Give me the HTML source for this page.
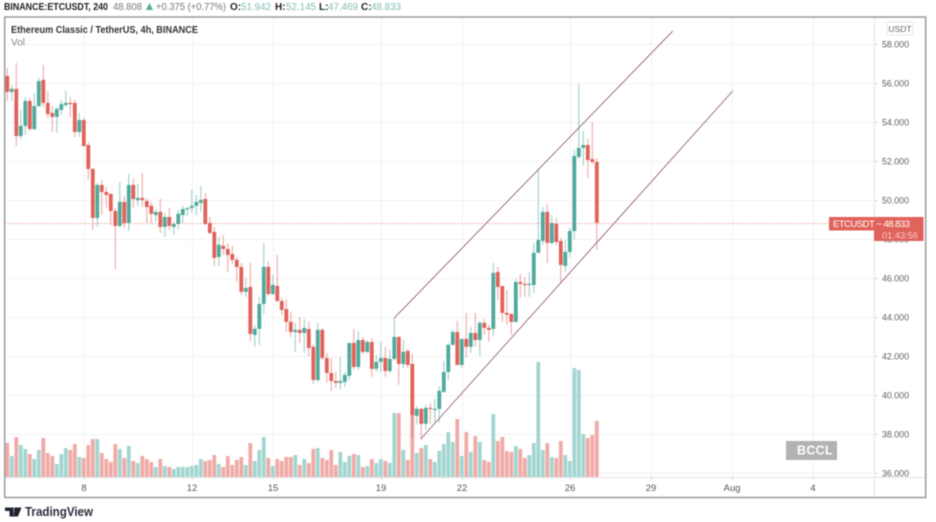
<!DOCTYPE html>
<html lang="en">
<head>
<meta charset="utf-8">
<title>ETCUSDT chart</title>
<style>
html,body{margin:0;padding:0;background:#fff;width:936px;height:522px;overflow:hidden}
svg{display:block;filter:blur(0.4px)}
text{font-family:"Liberation Sans",sans-serif}
</style>
</head>
<body>
<svg id="chart" xmlns="http://www.w3.org/2000/svg" width="936" height="522" viewBox="0 0 936 522">
  <rect x="0" y="0" width="936" height="522" fill="#fff"/>
  <g id="grid"></g>
  <g id="volumes"></g>
  <g id="candles"></g>
  <g id="channels"></g>
  <g id="axes"></g>
  <rect x="4.7" y="17" width="921" height="480.5" fill="none" stroke="#a0a0a0" stroke-width="1.6"/>

  <g font-size="10">
    <text x="4" y="10" font-weight="700" fill="#222" textLength="104" lengthAdjust="spacingAndGlyphs">BINANCE:ETCUSDT, 240</text>
    <text x="113" y="10" fill="#777" textLength="29" lengthAdjust="spacingAndGlyphs">48.808</text>
    <polygon points="146,10 153,10 149.5,3" fill="#58a89c"/>
    <text x="156" y="10" fill="#777" textLength="70" lengthAdjust="spacingAndGlyphs">+0.375 (+0.77%)</text>
    <text x="230" y="10" font-weight="700" fill="#222">O:</text>
    <text x="241" y="10" fill="#7fbdb4" textLength="30" lengthAdjust="spacingAndGlyphs">51.942</text>
    <text x="275" y="10" font-weight="700" fill="#222">H:</text>
    <text x="286" y="10" fill="#7fbdb4" textLength="30" lengthAdjust="spacingAndGlyphs">52.145</text>
    <text x="319" y="10" font-weight="700" fill="#222">L:</text>
    <text x="328" y="10" fill="#7fbdb4" textLength="30" lengthAdjust="spacingAndGlyphs">47.469</text>
    <text x="361" y="10" font-weight="700" fill="#222">C:</text>
    <text x="371" y="10" fill="#7fbdb4" textLength="30" lengthAdjust="spacingAndGlyphs">48.833</text>
  </g>

  <text x="11" y="33" font-size="10" font-weight="700" fill="#333" textLength="187" lengthAdjust="spacingAndGlyphs">Ethereum Classic / TetherUS, 4h, BINANCE</text>
  <text x="11" y="45.500" font-size="10" fill="#888">Vol</text>

  <rect x="887" y="22" width="26" height="13" rx="2.500" fill="#fff" stroke="#e6e6e6"/>
  <text x="900" y="32" font-size="8.500" fill="#666" text-anchor="middle">USDT</text>

  <rect x="786" y="441" width="51" height="19" fill="#b2b2b2"/>
  <text x="815" y="454.500" font-size="12.500" font-weight="700" fill="#fff" text-anchor="middle" letter-spacing="0.300">BCCL</text>

  <g id="price-tag">
    <rect x="829" y="217" width="94.500" height="13.500" fill="#e0625a"/>
    <rect x="874" y="230" width="49.500" height="11" fill="#e0625a"/>
    <text x="833" y="227" font-size="9.500" fill="#fff" textLength="77" lengthAdjust="spacing">ETCUSDT − 48.833</text>
    <text x="882" y="238.500" font-size="9" fill="#f6c9c5" textLength="36" lengthAdjust="spacingAndGlyphs">01:43:56</text>
  </g>

  <g>
    <path d="M5 507.500h8.500v9h-4v-5.500h-4.500zM14.500 507.500h7l-3.500 9h-4.500z" fill="#1f2430"/>
    <circle cx="15.500" cy="509" r="1.500" fill="#1f2430"/>
    <text x="25" y="516" font-size="12.500" font-weight="700" fill="#2a2e39" textLength="68" lengthAdjust="spacingAndGlyphs">TradingView</text>
  </g>
</svg>
<script>
const opens=[56.36,55.54,55.70,53.28,53.80,55.08,53.64,54.82,56.16,54.98,54.46,54.26,54.62,54.87,54.98,54.98,53.49,54.10,52.82,51.59,49.08,50.77,50.41,50.31,49.44,48.67,49.90,48.82,50.77,50.00,50.11,49.95,49.70,49.23,49.39,48.62,49.13,48.62,48.77,49.23,49.54,49.59,49.70,49.85,50.05,48.82,48.36,47.08,47.65,47.49,47.23,46.93,46.57,45.29,45.54,43.08,43.39,44.67,46.57,45.18,45.59,44.82,44.41,43.75,43.23,43.34,43.18,43.39,42.47,40.77,43.34,41.90,41.13,40.72,40.62,40.67,40.98,42.67,41.44,42.82,42.21,42.72,41.34,41.70,41.90,41.23,41.85,42.98,41.59,42.26,41.59,38.93,39.29,38.52,39.34,39.23,39.29,40.16,41.18,42.57,43.23,41.54,42.88,42.47,43.18,42.82,43.70,43.44,43.39,46.31,45.59,44.21,44.16,43.75,45.80,45.70,45.64,45.64,47.29,47.90,49.39,47.80,48.77,47.90,46.62,47.34,48.41,52.21,52.67,52.82,52.10,51.95];
const highs=[56.77,55.90,57.03,54.62,55.28,55.23,55.49,56.26,56.93,55.59,54.82,54.77,55.13,55.59,55.28,55.13,54.46,54.21,52.97,51.64,50.87,51.03,50.67,50.36,49.59,50.92,50.21,51.34,51.08,50.82,51.39,50.11,49.90,49.54,50.05,49.34,49.59,48.88,49.49,49.70,49.64,50.52,50.26,50.72,50.36,49.13,48.62,48.11,48.21,47.80,47.65,47.08,46.77,46.00,46.77,43.59,45.03,47.80,46.88,46.16,47.18,44.98,44.93,44.26,43.70,44.00,43.90,43.75,42.57,43.70,43.44,42.16,41.90,41.18,41.95,41.18,42.67,43.39,43.29,42.98,42.82,42.93,42.05,42.72,42.47,42.31,43.95,42.98,42.82,42.36,42.11,39.44,39.34,39.49,39.59,39.80,40.46,41.75,42.67,43.34,43.80,42.88,44.21,43.49,44.21,43.80,43.90,43.59,46.77,46.57,45.59,45.39,44.16,45.95,46.21,46.05,46.31,47.80,51.59,49.64,49.80,49.23,49.08,48.05,47.95,48.57,52.56,55.95,53.54,53.13,54.00,52.15];
const lows=[55.08,55.08,52.77,53.13,53.33,53.54,53.59,54.77,54.77,54.21,53.49,53.44,54.36,54.77,54.26,53.23,53.23,52.72,51.03,48.47,48.62,49.23,49.59,48.72,46.47,48.57,48.57,48.41,49.59,49.70,49.64,48.82,48.82,48.88,48.31,48.11,48.47,48.21,48.47,48.82,49.18,49.34,49.23,49.39,48.72,48.26,46.62,46.62,47.18,46.31,46.72,45.80,45.13,45.03,42.77,42.47,42.57,44.16,45.08,45.13,44.77,44.11,43.23,42.98,42.21,42.67,42.16,42.00,40.57,40.67,41.80,40.62,40.21,40.36,40.31,40.41,40.77,41.29,41.29,42.11,42.16,40.93,41.18,41.18,40.93,41.13,41.75,40.52,41.39,41.39,37.80,38.46,37.70,38.21,38.52,38.57,38.57,40.11,40.77,42.52,41.54,41.39,41.90,42.16,42.47,42.00,43.08,42.72,43.03,44.87,43.75,43.59,43.08,43.70,44.98,45.03,45.03,45.23,47.29,47.70,46.77,47.70,47.70,45.75,46.31,47.08,48.00,52.10,51.74,51.13,51.85,47.44];
const closes=[55.54,55.70,53.28,53.80,55.08,53.64,54.82,56.10,54.98,54.41,54.26,54.67,54.92,54.98,54.92,53.49,54.10,52.77,51.59,49.08,50.77,50.41,50.26,49.44,48.67,49.90,48.82,50.77,50.05,50.11,50.00,49.64,49.29,49.39,48.62,49.13,48.67,48.77,49.29,49.54,49.59,49.70,49.90,50.00,48.77,48.31,47.03,47.70,47.49,47.18,46.93,46.57,45.29,45.49,43.13,43.39,44.67,46.57,45.18,45.64,44.82,44.36,43.75,43.23,43.34,43.18,43.44,42.41,40.77,43.34,41.90,41.13,40.72,40.62,40.72,41.03,42.67,41.44,42.82,42.21,42.72,41.34,41.70,41.90,41.23,41.85,42.98,41.59,42.21,41.54,38.98,39.29,38.52,39.34,39.29,39.29,40.21,41.18,42.57,43.23,41.54,42.88,42.47,43.18,42.82,43.70,43.44,43.34,46.26,45.54,44.21,44.11,43.75,45.80,45.70,45.64,45.70,47.29,47.95,49.39,47.80,48.82,47.85,46.67,47.34,48.41,52.26,52.67,52.82,52.05,51.95,48.83];
const volumes=[34,21,40,32,28,23,18,27,39,24,21,13,23,29,27,33,20,19,32,38,38,24,18,15,33,28,19,31,16,14,21,18,15,10,18,11,10,8,10,10,10,11,12,18,16,17,22,13,10,21,12,17,20,12,34,16,27,40,19,11,18,16,20,20,22,12,18,14,28,29,19,17,27,12,25,15,21,23,22,10,11,18,14,18,16,14,64,64,27,17,69,24,29,32,18,15,26,33,45,35,58,21,45,25,41,35,17,15,63,36,40,26,25,31,28,19,22,34,115,27,34,20,19,36,22,16,109,107,43,39,42,56];
const priceTicks=[58,56,54,52,50,48,46,44,42,40,38,36];
const timeLabels=["8","12","15","19","22","26","29","Aug","4"];
const timeLabelBars=[17,41,59,83,101,125,143,161,179];
const upperChannelBars=[86,147.9];
const upperChannelPrices=[43.95,58.67];
const lowerChannelBars=[91.9,161.2];
const lowerChannelPrices=[37.75,55.59];
const lastPrice=48.833;

const NS='http://www.w3.org/2000/svg';
const xScale=i=>7.3+4.5*i;
const yScale=p=>44+(58-p)*19.5;
const volumeBase=477;
const volumeHeight=v=>v*1.0;
const UP='#4fa99c',DOWN='#e0625a',UP_VOL='#a3d5d0',DOWN_VOL='#efaaa6';

function make(tag,attrs,parent,text){
  const el=document.createElementNS(NS,tag);
  for(const k in attrs)el.setAttribute(k,attrs[k]);
  if(text!==undefined)el.textContent=text;
  parent.appendChild(el);
  return el;
}
const gridG=document.getElementById('grid');
const volG=document.getElementById('volumes');
const candleG=document.getElementById('candles');
const chanG=document.getElementById('channels');
const axesG=document.getElementById('axes');

priceTicks.forEach(p=>{
  const y=Math.round(yScale(p))+0.5;
  const g=make('line',{x1:5,x2:874,y1:y,y2:y,stroke:'#f1f1f1','stroke-width':1},gridG);
  
  
  const t=make('line',{x1:874,x2:878,y1:y,y2:y,stroke:'#d8d8d8','stroke-width':1},axesG);
  
  
  const l=make('text',{x:882,y:y+3.2,'font-size':9.3,fill:'#5f5f5f',textLength:27,lengthAdjust:'spacingAndGlyphs'},axesG,p.toFixed(3));
  
  
});
timeLabels.forEach((s,k)=>{
  const x=Math.round(xScale(timeLabelBars[k]))+0.5;
  const g=make('line',{x1:x,x2:x,y1:18,y2:477,stroke:'#f1f1f1','stroke-width':1},gridG);
  
  
  const t=make('line',{x1:x,x2:x,y1:477,y2:480,stroke:'#d8d8d8','stroke-width':1},axesG);
  
  
  const l=make('text',{x:x-0.5,y:491,'font-size':9.5,fill:'#555','text-anchor':'middle'},axesG,s);
  
  
});
const axisX=make('line',{x1:5,x2:925,y1:477.5,y2:477.5,stroke:'#e2e2e2','stroke-width':1},axesG);


const axisY=make('line',{x1:874.5,x2:874.5,y1:18,y2:497,stroke:'#e6e6e6','stroke-width':1},axesG);



volumes.forEach((v,i)=>{
  const h=volumeHeight(v);
  const up=closes[i]>=opens[i];
  const b=make('rect',{x:xScale(i)-1.9,y:volumeBase-h,width:3.8,height:h,fill:up?UP_VOL:DOWN_VOL},volG);
  
  
});

opens.forEach((o,i)=>{
  const c=closes[i];
  const up=c>=o;
  const col=up?UP:DOWN;
  const x=xScale(i);
  const w=make('line',{x1:x,x2:x,y1:yScale(highs[i]),y2:yScale(lows[i]),stroke:col,'stroke-width':1,'stroke-opacity':0.6},candleG);
  
  
  const top=yScale(Math.max(o,c));
  const bot=yScale(Math.min(o,c));
  const b=make('rect',{x:x-1.9,y:top,width:3.8,height:Math.max(1.2,bot-top),fill:col},candleG);
  
  
});

const upperLine=make('line',{x1:xScale(upperChannelBars[0]),y1:yScale(upperChannelPrices[0]),x2:xScale(upperChannelBars[1]),y2:yScale(upperChannelPrices[1]),stroke:'#8f5a72','stroke-width':0.85},chanG);


const lowerLine=make('line',{x1:xScale(lowerChannelBars[0]),y1:yScale(lowerChannelPrices[0]),x2:xScale(lowerChannelBars[1]),y2:yScale(lowerChannelPrices[1]),stroke:'#8f5a72','stroke-width':0.85},chanG);



const py=Math.round(yScale(lastPrice))+0.5;
const priceLine=make('line',{x1:5,x2:829,y1:py,y2:py,stroke:'#e0625a','stroke-width':1,'stroke-dasharray':'1 2','stroke-opacity':0.8},chanG);


</script>
</body>
</html>
